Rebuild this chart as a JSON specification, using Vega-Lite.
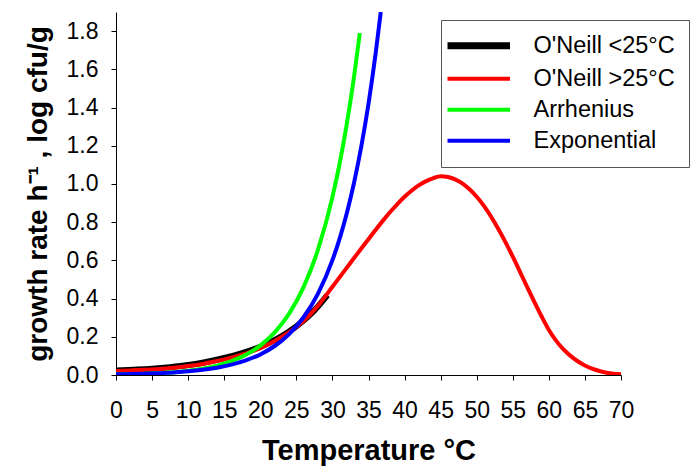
{
  "$schema": "https://vega.github.io/schema/vega-lite/v6.json",
  "width": 505,
  "height": 363,
  "autosize": {"type": "none"},
  "padding": {"left": 116, "top": 12, "right": 69, "bottom": 91},
  "background": "white",
  "config": {
    "view": {"stroke": null},
    "font": "Liberation Sans",
    "axis": {
      "domainColor": "black", "tickColor": "black", "labelColor": "black", "titleColor": "black",
      "grid": false, "labelFont": "Liberation Sans", "titleFont": "Liberation Sans",
      "labelFontSize": 23, "titleFontSize": 28, "titleFontWeight": "bold",
      "tickSize": 5, "labelFlush": false, "labelOverlap": false
    },
    "legend": {
      "orient": "none", "legendX": 325, "legendY": 8,
      "symbolType": "M-2.5,0H2.5", "symbolSize": 625,
      "labelFontSize": 23.5, "labelFont": "Liberation Sans", "labelColor": "black",
      "labelOffset": 43, "padding": 14, "strokeColor": "#555555", "fillColor": "white",
      "rowPadding": 6, "symbolOffset": 12
    }
  },
  "data": {"values": [
    {"T": 0, "r": 0.024, "s": "O'Neill <25°C"},
    {"T": 2.5, "r": 0.028, "s": "O'Neill <25°C"},
    {"T": 5, "r": 0.033, "s": "O'Neill <25°C"},
    {"T": 7.5, "r": 0.041, "s": "O'Neill <25°C"},
    {"T": 10, "r": 0.052, "s": "O'Neill <25°C"},
    {"T": 12.5, "r": 0.068, "s": "O'Neill <25°C"},
    {"T": 15, "r": 0.089, "s": "O'Neill <25°C"},
    {"T": 17.5, "r": 0.115, "s": "O'Neill <25°C"},
    {"T": 20, "r": 0.148, "s": "O'Neill <25°C"},
    {"T": 22.5, "r": 0.193, "s": "O'Neill <25°C"},
    {"T": 25, "r": 0.255, "s": "O'Neill <25°C"},
    {"T": 27.5, "r": 0.338, "s": "O'Neill <25°C"},
    {"T": 29.3, "r": 0.418, "s": "O'Neill <25°C"},

    {"T": 0, "r": 0.021, "s": "O'Neill >25°C"},
    {"T": 2, "r": 0.024, "s": "O'Neill >25°C"},
    {"T": 4, "r": 0.027, "s": "O'Neill >25°C"},
    {"T": 6, "r": 0.031, "s": "O'Neill >25°C"},
    {"T": 8, "r": 0.038, "s": "O'Neill >25°C"},
    {"T": 10, "r": 0.047, "s": "O'Neill >25°C"},
    {"T": 12, "r": 0.058, "s": "O'Neill >25°C"},
    {"T": 14, "r": 0.073, "s": "O'Neill >25°C"},
    {"T": 16, "r": 0.091, "s": "O'Neill >25°C"},
    {"T": 18, "r": 0.113, "s": "O'Neill >25°C"},
    {"T": 20, "r": 0.140, "s": "O'Neill >25°C"},
    {"T": 22, "r": 0.178, "s": "O'Neill >25°C"},
    {"T": 24, "r": 0.224, "s": "O'Neill >25°C"},
    {"T": 26, "r": 0.283, "s": "O'Neill >25°C"},
    {"T": 27, "r": 0.320, "s": "O'Neill >25°C"},
    {"T": 28, "r": 0.362, "s": "O'Neill >25°C"},
    {"T": 29, "r": 0.411, "s": "O'Neill >25°C"},
    {"T": 30, "r": 0.462, "s": "O'Neill >25°C"},
    {"T": 31, "r": 0.512, "s": "O'Neill >25°C"},
    {"T": 32, "r": 0.562, "s": "O'Neill >25°C"},
    {"T": 33, "r": 0.612, "s": "O'Neill >25°C"},
    {"T": 34, "r": 0.662, "s": "O'Neill >25°C"},
    {"T": 35, "r": 0.711, "s": "O'Neill >25°C"},
    {"T": 36, "r": 0.760, "s": "O'Neill >25°C"},
    {"T": 37, "r": 0.808, "s": "O'Neill >25°C"},
    {"T": 38, "r": 0.853, "s": "O'Neill >25°C"},
    {"T": 39, "r": 0.895, "s": "O'Neill >25°C"},
    {"T": 40, "r": 0.933, "s": "O'Neill >25°C"},
    {"T": 41, "r": 0.966, "s": "O'Neill >25°C"},
    {"T": 42, "r": 0.994, "s": "O'Neill >25°C"},
    {"T": 43, "r": 1.015, "s": "O'Neill >25°C"},
    {"T": 44, "r": 1.031, "s": "O'Neill >25°C"},
    {"T": 45, "r": 1.040, "s": "O'Neill >25°C"},
    {"T": 46, "r": 1.036, "s": "O'Neill >25°C"},
    {"T": 47, "r": 1.024, "s": "O'Neill >25°C"},
    {"T": 48, "r": 1.003, "s": "O'Neill >25°C"},
    {"T": 49, "r": 0.972, "s": "O'Neill >25°C"},
    {"T": 50, "r": 0.933, "s": "O'Neill >25°C"},
    {"T": 51, "r": 0.885, "s": "O'Neill >25°C"},
    {"T": 52, "r": 0.828, "s": "O'Neill >25°C"},
    {"T": 53, "r": 0.764, "s": "O'Neill >25°C"},
    {"T": 54, "r": 0.694, "s": "O'Neill >25°C"},
    {"T": 55, "r": 0.619, "s": "O'Neill >25°C"},
    {"T": 56, "r": 0.540, "s": "O'Neill >25°C"},
    {"T": 57, "r": 0.460, "s": "O'Neill >25°C"},
    {"T": 58, "r": 0.381, "s": "O'Neill >25°C"},
    {"T": 59, "r": 0.306, "s": "O'Neill >25°C"},
    {"T": 60, "r": 0.236, "s": "O'Neill >25°C"},
    {"T": 61, "r": 0.180, "s": "O'Neill >25°C"},
    {"T": 62, "r": 0.135, "s": "O'Neill >25°C"},
    {"T": 63, "r": 0.100, "s": "O'Neill >25°C"},
    {"T": 64, "r": 0.072, "s": "O'Neill >25°C"},
    {"T": 65, "r": 0.050, "s": "O'Neill >25°C"},
    {"T": 66, "r": 0.033, "s": "O'Neill >25°C"},
    {"T": 67, "r": 0.021, "s": "O'Neill >25°C"},
    {"T": 68, "r": 0.012, "s": "O'Neill >25°C"},
    {"T": 69, "r": 0.007, "s": "O'Neill >25°C"},
    {"T": 70, "r": 0.004, "s": "O'Neill >25°C"},

    {"T": 0, "r": 0.0028, "s": "Arrhenius"},
    {"T": 2, "r": 0.0043, "s": "Arrhenius"},
    {"T": 4, "r": 0.0066, "s": "Arrhenius"},
    {"T": 6, "r": 0.0100, "s": "Arrhenius"},
    {"T": 8, "r": 0.0150, "s": "Arrhenius"},
    {"T": 10, "r": 0.0224, "s": "Arrhenius"},
    {"T": 12, "r": 0.0333, "s": "Arrhenius"},
    {"T": 14, "r": 0.0492, "s": "Arrhenius"},
    {"T": 16, "r": 0.0723, "s": "Arrhenius"},
    {"T": 18, "r": 0.1057, "s": "Arrhenius"},
    {"T": 20, "r": 0.154, "s": "Arrhenius"},
    {"T": 22, "r": 0.223, "s": "Arrhenius"},
    {"T": 24, "r": 0.321, "s": "Arrhenius"},
    {"T": 26, "r": 0.460, "s": "Arrhenius"},
    {"T": 28, "r": 0.656, "s": "Arrhenius"},
    {"T": 30, "r": 0.931, "s": "Arrhenius"},
    {"T": 31, "r": 1.107, "s": "Arrhenius"},
    {"T": 32, "r": 1.316, "s": "Arrhenius"},
    {"T": 33, "r": 1.562, "s": "Arrhenius"},
    {"T": 33.8, "r": 1.790, "s": "Arrhenius"},

    {"T": 0, "r": 0.0035, "s": "Exponential"},
    {"T": 2, "r": 0.0049, "s": "Exponential"},
    {"T": 4, "r": 0.0069, "s": "Exponential"},
    {"T": 6, "r": 0.0097, "s": "Exponential"},
    {"T": 8, "r": 0.0137, "s": "Exponential"},
    {"T": 10, "r": 0.0193, "s": "Exponential"},
    {"T": 12, "r": 0.0272, "s": "Exponential"},
    {"T": 14, "r": 0.0384, "s": "Exponential"},
    {"T": 16, "r": 0.0541, "s": "Exponential"},
    {"T": 18, "r": 0.0763, "s": "Exponential"},
    {"T": 20, "r": 0.1077, "s": "Exponential"},
    {"T": 22, "r": 0.1518, "s": "Exponential"},
    {"T": 24, "r": 0.2142, "s": "Exponential"},
    {"T": 26, "r": 0.3021, "s": "Exponential"},
    {"T": 28, "r": 0.4262, "s": "Exponential"},
    {"T": 30, "r": 0.6011, "s": "Exponential"},
    {"T": 31, "r": 0.7139, "s": "Exponential"},
    {"T": 32, "r": 0.8479, "s": "Exponential"},
    {"T": 33, "r": 1.007, "s": "Exponential"},
    {"T": 34, "r": 1.196, "s": "Exponential"},
    {"T": 35, "r": 1.420, "s": "Exponential"},
    {"T": 36, "r": 1.687, "s": "Exponential"},
    {"T": 36.7, "r": 1.900, "s": "Exponential"}
  ]},
  "mark": {"type": "line", "interpolate": "monotone", "clip": true},
  "encoding": {
    "x": {
      "field": "T", "type": "quantitative",
      "scale": {"domain": [0, 70], "nice": false, "zero": false},
      "axis": {"values": [0, 5, 10, 15, 20, 25, 30, 35, 40, 45, 50, 55, 60, 65, 70], "title": "Temperature °C", "titleFontSize": 29, "labelPadding": 19, "titlePadding": 14}
    },
    "y": {
      "field": "r", "type": "quantitative",
      "scale": {"domain": [0, 1.9], "nice": false},
      "axis": {"values": [0, 0.2, 0.4, 0.6, 0.8, 1.0, 1.2, 1.4, 1.6, 1.8], "format": ".1f", "title": "growth rate h⁻¹ , log cfu/g", "labelPadding": 13, "titlePadding": 14}
    },
    "color": {
      "field": "s", "type": "nominal",
      "scale": {"domain": ["O'Neill <25°C", "O'Neill >25°C", "Arrhenius", "Exponential"], "range": ["#000000", "#ff0000", "#00ff00", "#0000ff"]},
      "legend": {
        "title": null,
        "encode": {"symbols": {"update": {"strokeWidth": {"signal": "datum.value === \"O'Neill <25°C\" ? 7 : 4"}}}}
      }
    },
    "strokeWidth": {
      "condition": {"test": "datum.s === \"O'Neill <25°C\"", "value": 6},
      "value": 4
    }
  }
}
